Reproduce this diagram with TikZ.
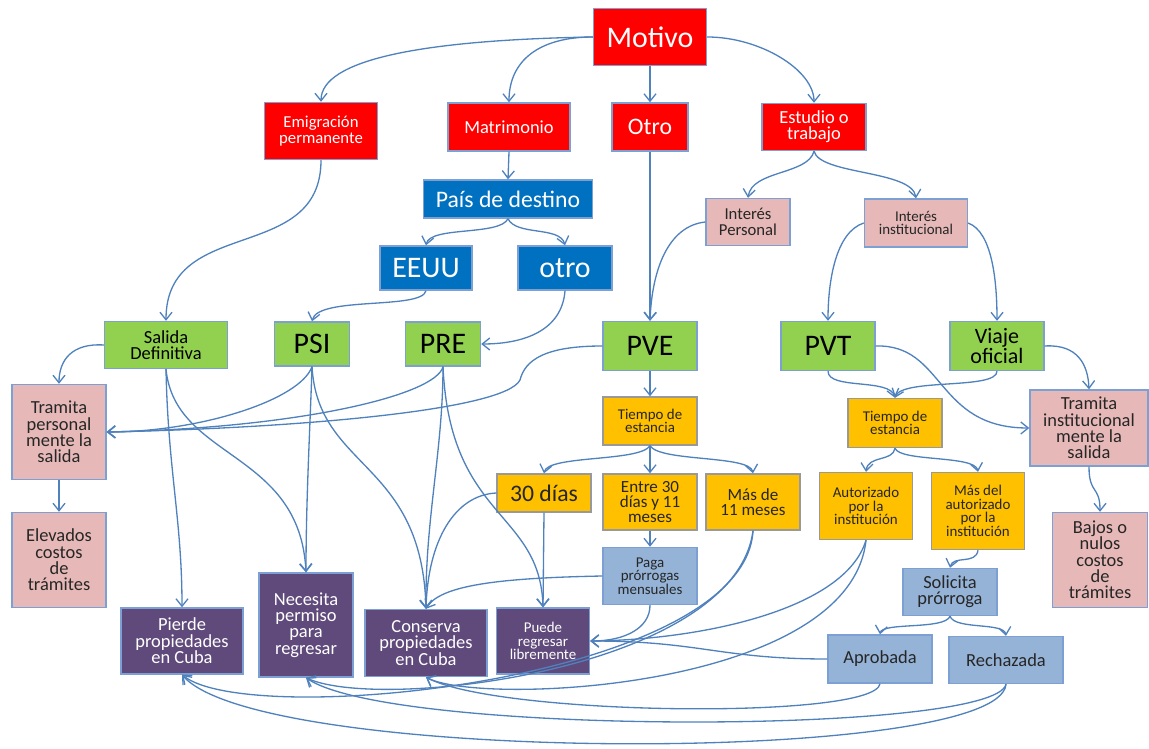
\documentclass[tikz,border=0pt]{standalone}
\usepackage{fontspec}
\setmainfont{Carlito}
\usepackage{xcolor}
\usetikzlibrary{arrows.meta, positioning}

\definecolor{motred}{RGB}{255,0,0}
\definecolor{destblue}{RGB}{0,112,192}
\definecolor{rosebox}{RGB}{230,185,184}
\definecolor{greenbox}{RGB}{146,208,80}
\definecolor{ambar}{RGB}{255,192,0}
\definecolor{skybox}{RGB}{149,179,215}
\definecolor{purplebox}{RGB}{96,74,123}
\definecolor{linkblue}{RGB}{79,129,189}
\definecolor{rim}{RGB}{124,160,212}

\begin{document}
\begin{tikzpicture}[x=0.02cm, y=-0.02cm,
    wh/.style 2 args={minimum width=#1*0.02cm, minimum height=#2*0.02cm}]
    % Styles
    \tikzstyle{box} = [rectangle, draw=rim, line width=0.8pt, align=center, inner sep=1pt]
    \tikzstyle{motivo} = [box, fill=motred, text=white]
    \tikzstyle{destino} = [box, fill=destblue, text=white]
    \tikzstyle{tramite} = [box, fill=rosebox, text=black!85]
    \tikzstyle{permiso} = [box, fill=greenbox, text=black]
    \tikzstyle{tiempo} = [box, fill=ambar, draw=black!40, text=black!85]
    \tikzstyle{prorroga} = [box, fill=skybox, text=black!85]
    \tikzstyle{efecto} = [box, fill=purplebox, text=white]
    \tikzstyle{xl} = [font=\fontsize{17}{18}\selectfont]
    \tikzstyle{lg} = [font=\fontsize{13.5}{14}\selectfont]
    \tikzstyle{md} = [font=\fontsize{10.5}{9.3}\selectfont]
    \tikzstyle{ms} = [font=\fontsize{9.5}{8.7}\selectfont]
    \tikzstyle{sm} = [font=\fontsize{8.5}{7.7}\selectfont]
    \tikzstyle{line} = [draw=linkblue, line width=0.75pt, -{Straight Barb[length=1.5mm, width=2.4mm]}]

    \useasboundingbox (0,0) rectangle (1149,749);

    % Nodes
    \node [motivo, xl, wh={113}{57}] (motivo) at (650,37) {Motivo};
    \node [motivo, ms, wh={113}{57}] (emig) at (321,131) {Emigración\\permanente};
    \node [motivo, md, wh={122}{48}] (matri) at (509,127) {Matrimonio};
    \node [motivo, lg, wh={76}{48}] (otro) at (650,127) {Otro};
    \node [motivo, md, wh={104}{47}] (estudio) at (814,127) {Estudio o\\trabajo};

    \node [destino, lg, wh={169}{38}] (pais) at (508,199) {País de destino};
    \node [destino, xl, wh={92}{44}] (eeuu) at (426,268) {EEUU};
    \node [destino, xl, wh={94}{44}] (otropais) at (565,268) {otro};
    \node [tramite, ms, wh={84}{47}] (intpers) at (748,222) {Interés\\Personal};
    \node [tramite, sm, wh={103}{48}] (intinst) at (916,223) {Interés\\institucional};

    \node [permiso, md, wh={123}{47}] (salida) at (166,345) {Salida\\Definitiva};
    \node [permiso, xl, wh={75}{44}] (psi) at (312,344) {PSI};
    \node [permiso, xl, wh={75}{44}] (pre) at (443,344) {PRE};
    \node [permiso, xl, wh={94}{49}] (pve) at (650,346) {PVE};
    \node [permiso, xl, wh={94}{49}] (pvt) at (828,346) {PVT};
    \node [permiso, font=\fontsize{12.5}{10.8}\selectfont, wh={94}{49}] (viaje) at (997,346) {Viaje\\oficial};

    \node [tramite, md, wh={94}{95}] (trampers) at (59,432) {Tramita\\personal\\mente la\\salida};
    \node [tramite, md, wh={94}{95}] (elevados) at (59,560) {Elevados\\costos\\de\\trámites};
    \node [tramite, md, wh={118}{76}] (traminst) at (1089,428) {Tramita\\institucional\\mente la\\salida};
    \node [tramite, md, wh={95}{95}] (bajos) at (1100,560) {Bajos o\\nulos\\costos\\de\\trámites};

    \node [tiempo, sm, wh={94}{48}] (tiempo1) at (650,421) {Tiempo de\\estancia};
    \node [tiempo, sm, wh={94}{49}] (tiempo2) at (895,423) {Tiempo de\\estancia};
    \node [tiempo, lg, wh={94}{38}] (dias30) at (544,493) {30 días};
    \node [tiempo, font=\fontsize{9.7}{8.6}\selectfont, wh={94}{56}] (entre) at (650,502) {Entre 30\\días y 11\\meses};
    \node [tiempo, font=\fontsize{9.7}{8.6}\selectfont, wh={94}{56}] (mas11) at (753,502) {Más de\\11 meses};
    \node [tiempo, sm, wh={93}{67}] (autor) at (866,506) {Autorizado\\por la\\institución};
    \node [tiempo, sm, wh={93}{77}] (masaut) at (978,511) {Más del\\autorizado\\por la\\institución};

    \node [prorroga, sm, wh={94}{57}] (paga) at (650,576) {Paga\\prórrogas\\mensuales};
    \node [prorroga, md, wh={94}{47}] (solicita) at (950,592) {Solicita\\prórroga};
    \node [prorroga, md, wh={104}{48}] (aprob) at (880,659) {Aprobada};
    \node [prorroga, md, wh={114}{47}] (rech) at (1006,660) {Rechazada};

    \node [efecto, md, wh={122}{66}] (pierde) at (182,641) {Pierde\\propiedades\\en Cuba};
    \node [efecto, md, wh={94}{104}] (necesita) at (306,625) {Necesita\\permiso\\para\\regresar};
    \node [efecto, md, wh={122}{67}] (conserva) at (426,643) {Conserva\\propiedades\\en Cuba};
    \node [efecto, sm, wh={93}{66}] (puede) at (543,641) {Puede\\regresar\\libremente};

    % Paths
    \path [line] (motivo.west) .. controls (420,40) and (321,60) .. (emig.north);
    \path [line] (motivo.west) .. controls (540,37) and (509,60) .. (matri.north);
    \path [line] (motivo.south) -- (otro.north);
    \path [line] (motivo.east) .. controls (760,37) and (814,70) .. (estudio.north);
    \path [line] (matri.south) -- (pais.north);
    \path [line] (pais.south) .. controls (500,236) and (430,226) .. (eeuu.north);
    \path [line] (pais.south) .. controls (516,236) and (560,226) .. (otropais.north);
    \path [line] (estudio.south) .. controls (808,175) and (752,170) .. (intpers.north);
    \path [line] (estudio.south) .. controls (820,175) and (912,170) .. (intinst.north);

    \path [line] (emig.south) .. controls (321,265) and (166,215) .. (salida.north);
    \path [line] (eeuu.south) .. controls (422,310) and (318,296) .. (psi.north);
    \path [line] (otropais.south) .. controls (562,330) and (525,344) .. (pre.east);
    \path [line] (otro.south) -- (pve.north);
    \path [line] (intpers.west) .. controls (668,226) and (652,270) .. (pve.north);
    \path [line] (intinst.west) .. controls (836,232) and (828,280) .. (pvt.north);
    \path [line] (intinst.east) .. controls (992,232) and (997,280) .. (viaje.north);

    \path [line] (salida.west) .. controls (72,343) and (59,360) .. (trampers.north);
    \path [line] (psi.south) .. controls (300,400) and (200,432) .. (trampers.east);
    \path [line] (pre.south) .. controls (436,395) and (300,428) .. (trampers.east);
    \path [line] (pve.west) .. controls (545,346) and (525,360) .. (520,380)
        .. controls (505,410) and (300,428) .. (trampers.east);
    \path [line] (trampers.south) -- (elevados.north);

    \path [line] (salida.south) .. controls (168,470) and (182,520) .. (pierde.north);
    \path [line] (salida.south) .. controls (175,460) and (300,450) .. (necesita.north);
    \path [line] (psi.south) .. controls (310,430) and (306,500) .. (necesita.north);
    \path [line] (psi.south) .. controls (318,470) and (422,460) .. (conserva.north);
    \path [line] (pre.south) .. controls (443,450) and (425,520) .. (conserva.north);
    \path [line] (pre.south) .. controls (450,520) and (540,510) .. (puede.north);

    \path [line] (pve.south) -- (tiempo1.north);
    \path [line] (tiempo1.south) .. controls (640,462) and (548,455) .. (dias30.north);
    \path [line] (tiempo1.south) -- (entre.north);
    \path [line] (tiempo1.south) .. controls (660,462) and (750,455) .. (mas11.north);
    \path [line] (dias30.west) .. controls (455,495) and (428,540) .. (conserva.north);
    \path [line] (dias30.south) -- (puede.north);
    \path [line] (entre.south) -- (paga.north);
    \path [line] (paga.west) .. controls (500,578) and (440,585) .. (conserva.north);
    \path [line] (paga.south) .. controls (650,628) and (625,641) .. (puede.east);

    \path [line] (pvt.south) .. controls (828,390) and (890,378) .. (tiempo2.north);
    \path [line] (viaje.south) .. controls (997,390) and (902,378) .. (tiempo2.north);
    \path [line] (pvt.east) .. controls (945,344) and (935,428) .. (traminst.west);
    \path [line] (viaje.east) .. controls (1078,344) and (1088,365) .. (traminst.north);
    \path [line] (traminst.south) .. controls (1089,495) and (1100,485) .. (bajos.north);
    \path [line] (tiempo2.south) .. controls (893,462) and (868,455) .. (autor.north);
    \path [line] (tiempo2.south) .. controls (900,462) and (975,455) .. (masaut.north);
    \path [line] (masaut.south) .. controls (976,565) and (953,555) .. (solicita.north);
    \path [line] (solicita.south) .. controls (945,630) and (882,622) .. (aprob.north);
    \path [line] (solicita.south) .. controls (955,630) and (1004,622) .. (rech.north);

    \path [line] (autor.south) .. controls (845,610) and (700,640) .. (puede.east);
    \path [line] (aprob.west) .. controls (720,659) and (700,641) .. (puede.east);
    \path [line] (mas11.south) .. controls (745,680) and (250,730) .. (pierde.south);
    \path [line] (mas11.south) .. controls (735,670) and (380,712) .. (necesita.south);
    \path [line] (autor.south) .. controls (850,690) and (480,706) .. (conserva.south);
    \path [line] (aprob.south) .. controls (875,720) and (500,716) .. (conserva.south);
    \path [line] (rech.south) .. controls (995,735) and (390,736) .. (necesita.south);
    \path [line] (rech.south) .. controls (1000,765) and (260,765) .. (pierde.south);
\end{tikzpicture}
\end{document}
